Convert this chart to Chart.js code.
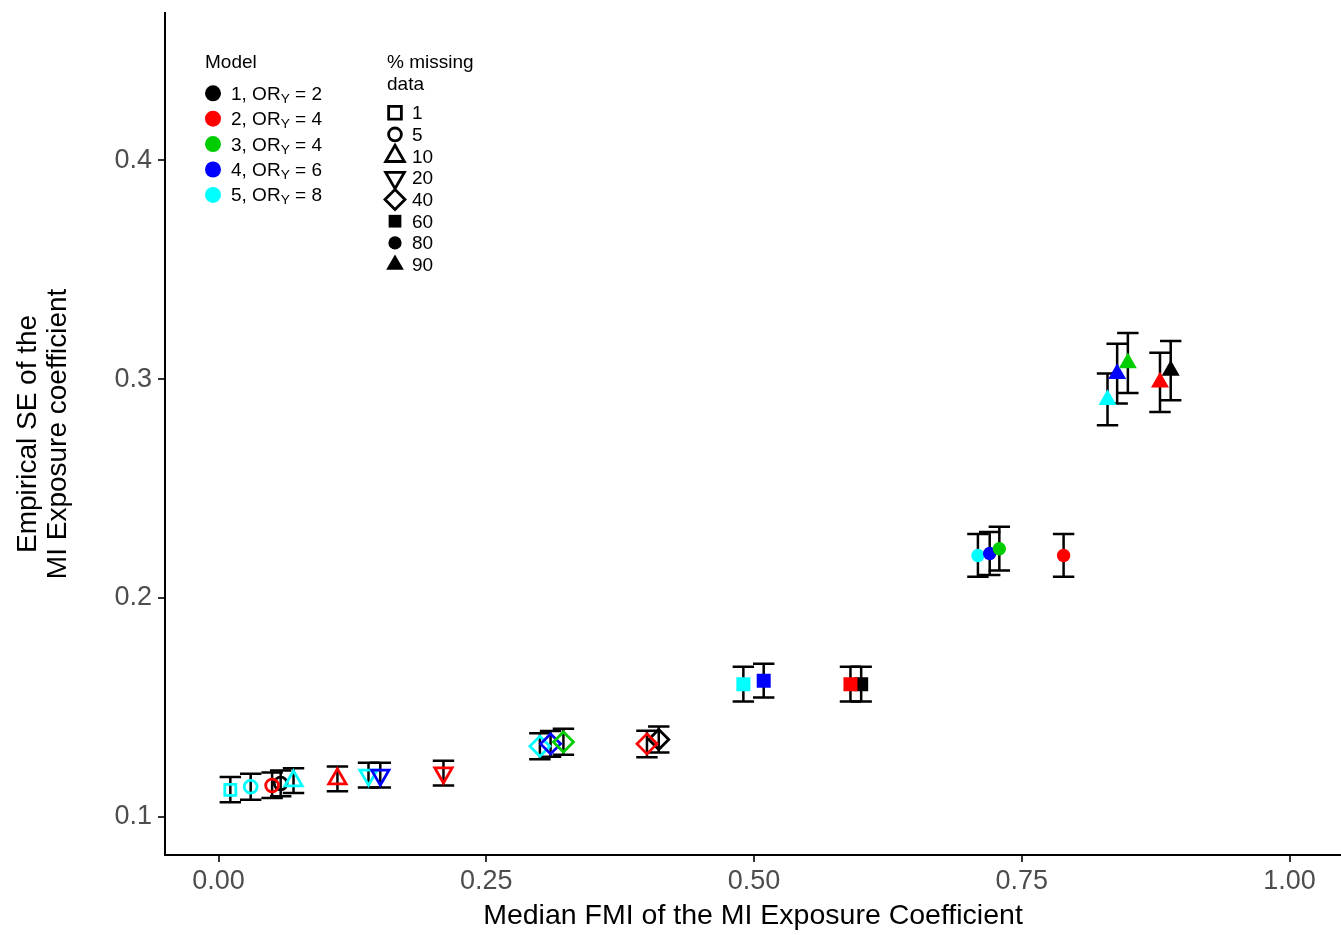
<!DOCTYPE html>
<html>
<head>
<meta charset="utf-8">
<title>Empirical SE vs median FMI</title>
<script src="https://cdn.jsdelivr.net/npm/chart.js@4/dist/chart.umd.min.js"></script>
<style>
  html, body { margin: 0; padding: 0; background: #ffffff; }
  #wrap { position: relative; width: 1341px; height: 935px; overflow: hidden; }
  #chart { position: absolute; left: 0; top: 0; }
  .lg { position: absolute; white-space: nowrap; line-height: 19px; height: 19px;
        font-family: "Liberation Sans", Arial, sans-serif; font-size: 19px; color: #000; }
  .lg sub { font-size: 0.72em; vertical-align: -0.22em; line-height: 0; }
</style>
</head>
<body>
<div id="wrap">
  <canvas id="chart" width="1341" height="935"></canvas>
  <div id="legend"></div>
</div>
<script>
// Axis ticks
const xTicks = [0, 0.25, 0.5, 0.75, 1.0];
const xTickLabels = ['0.00', '0.25', '0.50', '0.75', '1.00'];
const yTicks = [0.1, 0.2, 0.3, 0.4];
const yTickLabels = ['0.1', '0.2', '0.3', '0.4'];

// Legend categories
const missingLevels = [1, 5, 10, 20, 40, 60, 80, 90];
const modelIds = ['1', '2', '3', '4', '5'];
const modelOR = [2, 4, 4, 6, 8];
const modelColors = ['#000000', '#FF0000', '#00CD00', '#0000FF', '#00FFFF'];
// Stacking of the marker layers (higher = drawn further below)
const modelLayer = [5, 1, 2, 3, 4];

// Model 1, OR_Y = 2
const m1Missing = [5, 40, 60, 90];
const m1FMI     = [0.058, 0.411, 0.600, 0.889];
const m1SE      = [0.1152, 0.1353, 0.1606, 0.3040];
const m1Lower   = [0.1093, 0.1294, 0.1527, 0.2904];
const m1Upper   = [0.1211, 0.1412, 0.1686, 0.3175];

// Model 2, OR_Y = 4
const m2Missing = [5, 10, 20, 40, 60, 80, 90];
const m2FMI     = [0.050, 0.111, 0.210, 0.400, 0.590, 0.789, 0.879];
const m2SE      = [0.1143, 0.1173, 0.1200, 0.1333, 0.1606, 0.2194, 0.2986];
const m2Lower   = [0.1085, 0.1116, 0.1143, 0.1272, 0.1527, 0.2097, 0.2850];
const m2Upper   = [0.1202, 0.1230, 0.1256, 0.1393, 0.1686, 0.2292, 0.3121];

// Model 3, OR_Y = 4
const m3Missing = [40, 80, 90];
const m3FMI     = [0.322, 0.729, 0.849];
const m3SE      = [0.1342, 0.2225, 0.3074];
const m3Lower   = [0.1283, 0.2125, 0.2937];
const m3Upper   = [0.1402, 0.2325, 0.3211];

// Model 4, OR_Y = 6
const m4Missing = [20, 40, 60, 80, 90];
const m4FMI     = [0.151, 0.310, 0.509, 0.720, 0.839];
const m4SE      = [0.1190, 0.1333, 0.1622, 0.2203, 0.3025];
const m4Lower   = [0.1134, 0.1274, 0.1545, 0.2105, 0.2889];
const m4Upper   = [0.1247, 0.1392, 0.1699, 0.2302, 0.3162];

// Model 5, OR_Y = 8
const m5Missing = [1, 5, 10, 20, 40, 60, 80, 90];
const m5FMI     = [0.011, 0.030, 0.070, 0.140, 0.300, 0.490, 0.709, 0.830];
const m5SE      = [0.1123, 0.1137, 0.1164, 0.1190, 0.1322, 0.1606, 0.2194, 0.2906];
const m5Lower   = [0.1066, 0.1078, 0.1108, 0.1134, 0.1263, 0.1527, 0.2097, 0.2790];
const m5Upper   = [0.1182, 0.1196, 0.1222, 0.1247, 0.1381, 0.1686, 0.2292, 0.3026];

const models = [
  { missing: m1Missing, fmi: m1FMI, se: m1SE, lower: m1Lower, upper: m1Upper },
  { missing: m2Missing, fmi: m2FMI, se: m2SE, lower: m2Lower, upper: m2Upper },
  { missing: m3Missing, fmi: m3FMI, se: m3SE, lower: m3Lower, upper: m3Upper },
  { missing: m4Missing, fmi: m4FMI, se: m4SE, lower: m4Lower, upper: m4Upper },
  { missing: m5Missing, fmi: m5FMI, se: m5SE, lower: m5Lower, upper: m5Upper }
];

// Marker shape per % missing: [pointStyle, rotation, filled, radius, legend radius]
const shapeFor = {
  1:  ['rect',     0,   false, 7.8,  9.0],
  5:  ['circle',   0,   false, 6.4,  6.4],
  10: ['triangle', 0,   false, 10.0, 10.8],
  20: ['triangle', 180, false, 10.0, 10.8],
  40: ['rectRot',  0,   false, 10.0, 10.0],
  60: ['rect',     0,   true,  9.9,  9.0],
  80: ['circle',   0,   true,  6.7,  6.6],
  90: ['triangle', 0,   true,  10.4, 10.2]
};

const FONT = '"Liberation Sans", Arial, sans-serif';
const CAP_HALF = 0.01;       // half width of error-bar caps, in x units
const HOLLOW_STROKE = 2.8;

Chart.defaults.font.family = FONT;

// Vertical error bars with caps, drawn beneath the markers
const errorBars = {
  id: 'errorBars',
  beforeDatasetsDraw(chart) {
    const { ctx, scales: { x, y } } = chart;
    ctx.save();
    ctx.strokeStyle = '#000000';
    ctx.lineWidth = 2.5;
    ctx.lineCap = 'butt';
    models.forEach(m => {
      m.fmi.forEach((f, i) => {
        const px = x.getPixelForValue(f);
        const pl = x.getPixelForValue(f - CAP_HALF);
        const pr = x.getPixelForValue(f + CAP_HALF);
        const lo = y.getPixelForValue(m.lower[i]);
        const hi = y.getPixelForValue(m.upper[i]);
        ctx.beginPath();
        ctx.moveTo(px, lo); ctx.lineTo(px, hi);
        ctx.moveTo(pl, lo); ctx.lineTo(pr, lo);
        ctx.moveTo(pl, hi); ctx.lineTo(pr, hi);
        ctx.stroke();
      });
    });
    ctx.restore();
  }
};

// Let the plotting panel run to the right edge of the canvas
const fullWidthPanel = {
  id: 'fullWidthPanel',
  afterLayout(chart) {
    const xs = chart.scales.x;
    const right = chart.width;
    chart.chartArea.right = right;
    chart.chartArea.width = right - chart.chartArea.left;
    xs.right = right;
    xs.width = right - xs.left;
    xs.configure();
  }
};

// Legend keys, drawn with the same point renderer as the data markers
const MODEL_KEY_X = 213, MODEL_Y0 = 93.3, MODEL_DY = 25.4;
const SHAPE_KEY_X = 395, SHAPE_Y0 = 112.7, SHAPE_DY = 21.7;
const legendKeys = {
  id: 'legendKeys',
  afterDraw(chart) {
    const ctx = chart.ctx;
    ctx.save();
    modelColors.forEach((c, i) => {
      ctx.fillStyle = c;
      ctx.strokeStyle = c;
      Chart.helpers.drawPoint(ctx, { pointStyle: 'circle', radius: 8, rotation: 0, borderWidth: 0 },
        MODEL_KEY_X, MODEL_Y0 + i * MODEL_DY);
    });
    missingLevels.forEach((lvl, i) => {
      const [style, rot, filled, , lr] = shapeFor[lvl];
      ctx.fillStyle = filled ? '#000000' : 'rgba(0,0,0,0)';
      ctx.strokeStyle = '#000000';
      ctx.lineWidth = HOLLOW_STROKE;
      Chart.helpers.drawPoint(ctx, { pointStyle: style, radius: lr, rotation: rot, borderWidth: filled ? 0 : HOLLOW_STROKE },
        SHAPE_KEY_X, SHAPE_Y0 + i * SHAPE_DY);
    });
    ctx.restore();
  }
};

function levelOf(m, ctx) { return m.missing[ctx.dataIndex]; }

const datasets = models.map((m, k) => ({
  label: 'Model ' + modelIds[k],
  order: modelLayer[k],
  data: m.fmi.map((f, i) => ({ x: f, y: m.se[i] })),
  borderColor: modelColors[k],
  backgroundColor: modelColors[k],
  pointStyle: ctx => shapeFor[levelOf(m, ctx)][0],
  pointRotation: ctx => shapeFor[levelOf(m, ctx)][1],
  pointBackgroundColor: ctx => shapeFor[levelOf(m, ctx)][2] ? modelColors[k] : 'rgba(0,0,0,0)',
  pointBorderColor: modelColors[k],
  pointBorderWidth: ctx => shapeFor[levelOf(m, ctx)][2] ? 0 : HOLLOW_STROKE,
  pointRadius: ctx => shapeFor[levelOf(m, ctx)][3],
  pointHoverRadius: ctx => shapeFor[levelOf(m, ctx)][3],
  showLine: false
}));

new Chart(document.getElementById('chart'), {
  type: 'scatter',
  data: { datasets },
  plugins: [fullWidthPanel, errorBars, legendKeys],
  options: {
    responsive: false,
    animation: false,
    devicePixelRatio: 1,
    events: [],
    layout: { padding: { top: 12, right: 0, bottom: 0, left: 0 } },
    plugins: { legend: { display: false }, tooltip: { enabled: false } },
    scales: {
      x: {
        type: 'linear',
        min: -0.05,
        max: 1.048,
        afterBuildTicks: s => { s.ticks = xTicks.map(v => ({ value: v })); },
        afterFit: s => { s.height = 80; s.paddingLeft = 0; s.paddingRight = 0; },
        ticks: {
          autoSkip: false, maxRotation: 0, padding: 3,
          color: '#4D4D4D', font: { family: FONT, size: 27 },
          callback: (v, i) => xTickLabels[i]
        },
        grid: { display: true, drawOnChartArea: false, drawTicks: true, tickLength: 7, color: '#333333', lineWidth: 2 },
        border: { display: true, color: '#000000', width: 2 },
        title: {
          display: true, text: 'Median FMI of the MI Exposure Coefficient',
          color: '#000000', font: { family: FONT, size: 28.5 }, padding: { top: 0, bottom: 2 }
        }
      },
      y: {
        type: 'linear',
        min: 0.0825,
        max: 0.4675,
        afterBuildTicks: s => { s.ticks = yTicks.map(v => ({ value: v })); },
        afterFit: s => { s.width = 165; s.paddingTop = 0; s.paddingBottom = 0; },
        ticks: {
          autoSkip: false, padding: 6,
          color: '#4D4D4D', font: { family: FONT, size: 27 },
          callback: (v, i) => yTickLabels[i]
        },
        grid: { display: true, drawOnChartArea: false, drawTicks: true, tickLength: 7, color: '#333333', lineWidth: 2 },
        border: { display: true, color: '#000000', width: 2 },
        title: {
          display: true, text: ['Empirical SE of the', 'MI Exposure coefficient'],
          color: '#000000', font: { family: FONT, size: 28, lineHeight: 1.07 }, padding: { top: 13, bottom: 0 }
        }
      }
    }
  }
});

// Legend text
const legend = document.getElementById('legend');
function addText(html, left, cy) {
  const d = document.createElement('div');
  d.className = 'lg';
  d.innerHTML = html;
  d.style.left = left + 'px';
  d.style.top = (cy - 9.5) + 'px';
  legend.appendChild(d);
}
addText('Model', 205, 61.7);
modelIds.forEach((id, i) => {
  addText(id + ', OR<sub>Y</sub> = ' + modelOR[i], 231, MODEL_Y0 + i * MODEL_DY);
});
addText('% missing', 387, 61.7);
addText('data', 387, 83.3);
missingLevels.forEach((lvl, i) => {
  addText(String(lvl), 412, SHAPE_Y0 + i * SHAPE_DY);
});
</script>
</body>
</html>
